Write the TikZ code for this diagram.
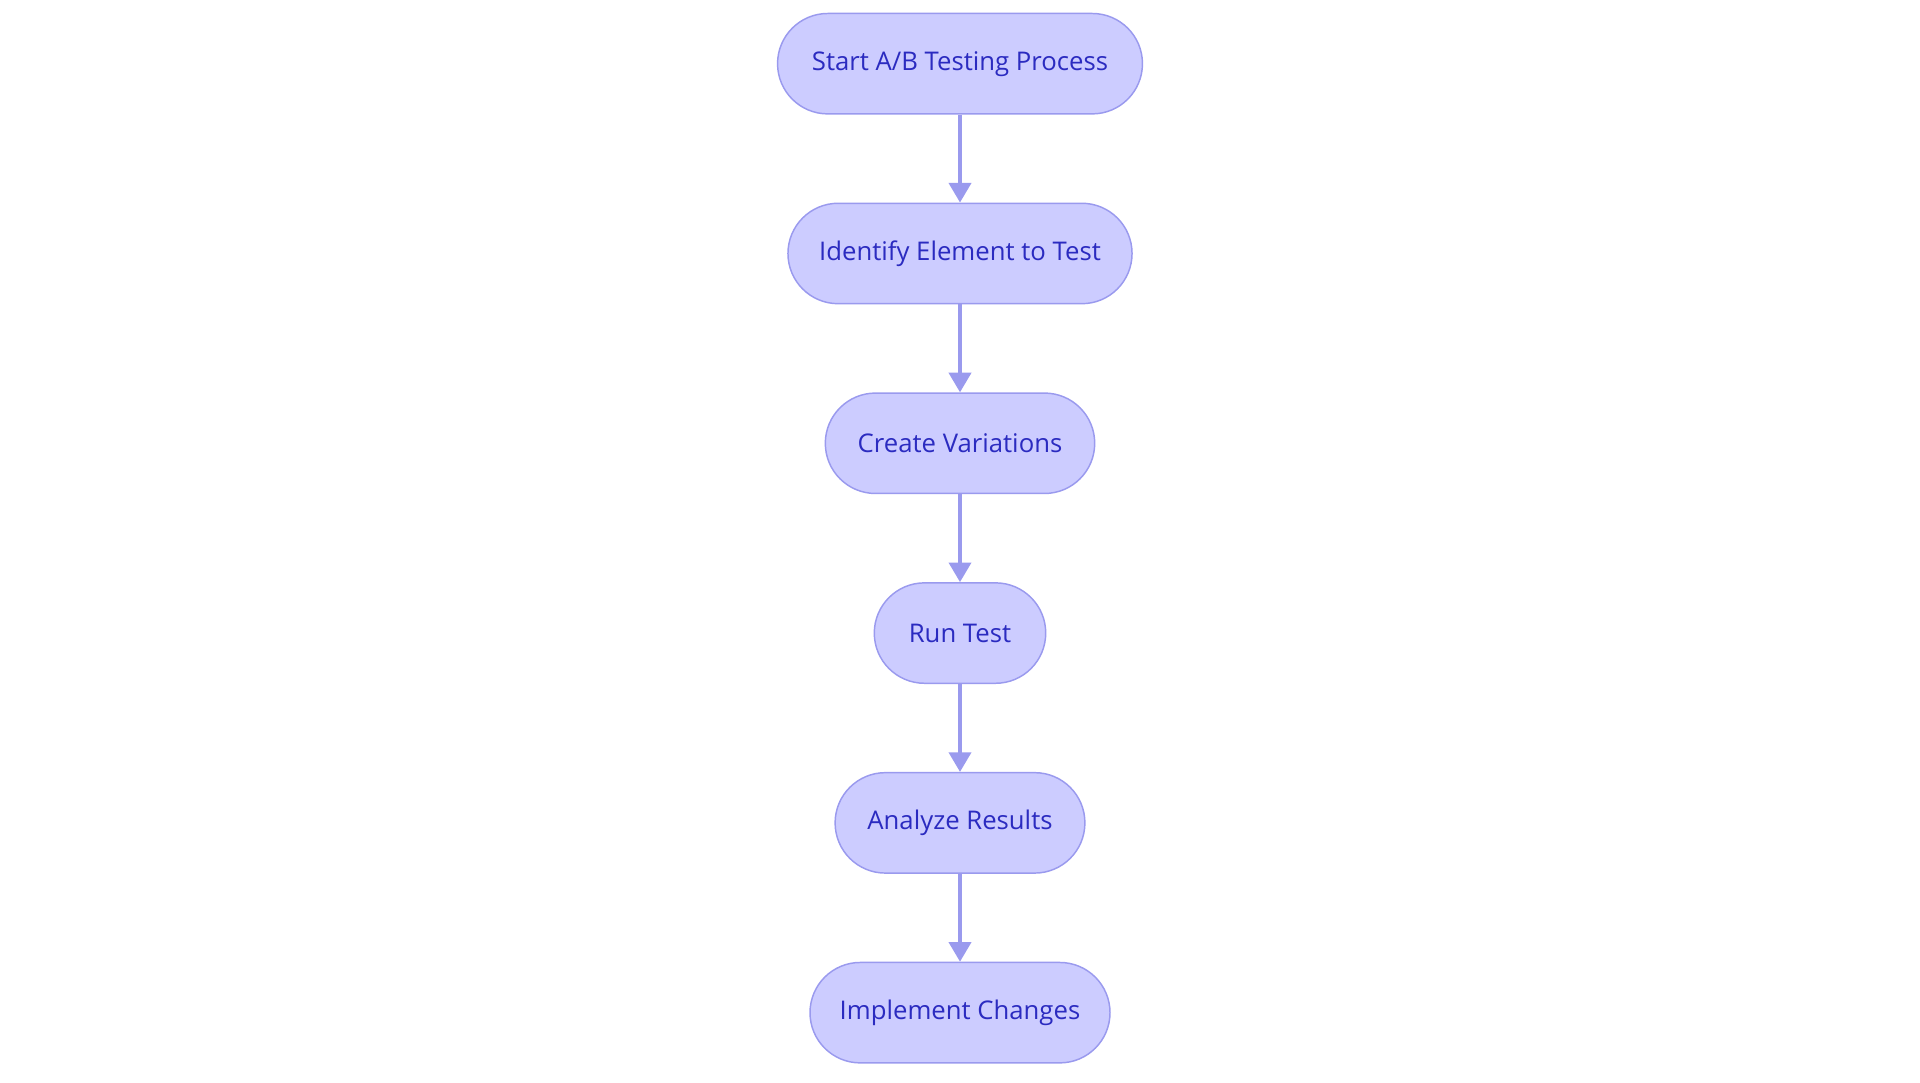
\documentclass[tikz,border=0pt]{standalone}
\usepackage{fontspec}
\setmainfont{Open Sans}
\usetikzlibrary{arrows.meta}
\definecolor{nfill}{HTML}{CCCCFF}
\definecolor{nline}{HTML}{9A9AEE}
\definecolor{ntext}{HTML}{2B2BC0}
\begin{document}
\begin{tikzpicture}[x=0.5pt,y=-0.5pt,
  stepbox/.style={draw=nline,fill=nfill,rounded corners=20.5pt,minimum height=41pt,inner sep=0pt,text=ntext,font=\fontsize{10.5pt}{12pt}\selectfont,line width=0.6pt},
  conn/.style={draw=nline,line width=1.5pt,-{Triangle[length=8pt,width=9pt]}}]
\useasboundingbox (0,0) rectangle (1568,884.4);
\node[stepbox,minimum width=149pt] (a) at (784,52) {Start A/B Testing Process};
\node[stepbox,minimum width=140.5pt] (b) at (784,207) {Identify Element to Test};
\node[stepbox,minimum width=110pt] (c) at (784,362) {Create Variations};
\node[stepbox,minimum width=70pt] (d) at (784,517) {Run Test};
\node[stepbox,minimum width=102pt] (e) at (784,672) {Analyze Results};
\node[stepbox,minimum width=122.5pt] (f) at (784,827) {Implement Changes};
\draw[conn] (a) -- (b);
\draw[conn] (b) -- (c);
\draw[conn] (c) -- (d);
\draw[conn] (d) -- (e);
\draw[conn] (e) -- (f);
\end{tikzpicture}
\end{document}
